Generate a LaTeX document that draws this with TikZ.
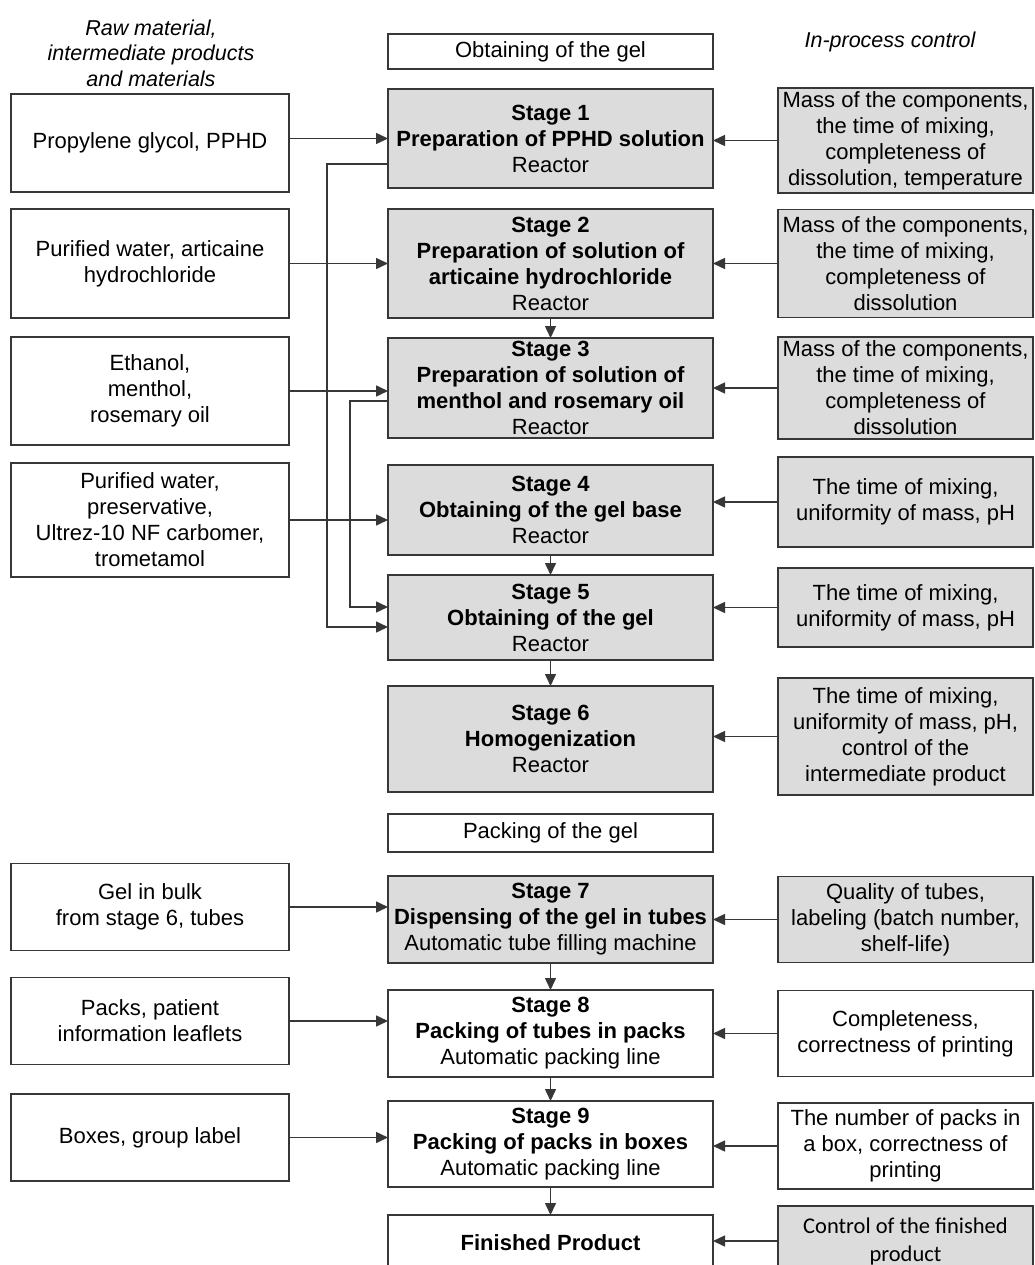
\documentclass[tikz,border=0pt]{standalone}
\usepackage{fontspec}
\setmainfont{Liberation Sans}
\newfontfamily\ctrlfont{Carlito}
\usepackage{xcolor}
\usetikzlibrary{arrows.meta,positioning}
\definecolor{stagegray}{RGB}{220,220,220}
\definecolor{edgegray}{RGB}{55,55,55}
\tikzset{
  basebox/.style={draw=edgegray, line width=1.6pt, align=center, inner sep=2pt, outer sep=0pt, font=\fontsize{22}{26}\selectfont},
  stagebox/.style={basebox, fill=stagegray, minimum width=325pt},
  packbox/.style={basebox, fill=white, minimum width=325pt},
  inbox/.style={basebox, fill=white, minimum width=278pt},
  ctrlbox/.style={basebox, fill=stagegray, minimum width=255pt},
  ctrlwhite/.style={basebox, fill=white, minimum width=255pt},
  headbox/.style={basebox, fill=white, minimum width=325pt},
  headtext/.style={align=center, font=\itshape\fontsize{21.5}{25.5}\selectfont},
  farr/.style={-{Triangle[length=12pt,width=11pt]}, line width=1.5pt, draw=edgegray}
}

\begin{document}
\begin{tikzpicture}[x=1pt,y=-1pt]
\path[fill=white, use as bounding box] (0,0) rectangle (1035,1265);
% column headings
\node[headtext] (hraw) at (151,53) {Raw material,\\intermediate products\\and materials};
\node[headtext] (hctrl) at (890,42) {In-process control};
% stages: obtaining of the gel
\node[headbox, minimum height=35pt] (tgel) at (550.5,51.5) {Obtaining of the gel};
\node[stagebox, minimum height=99pt, below=20pt of tgel] (s1) {\textbf{Stage 1}\\\textbf{Preparation of PPHD solution}\\Reactor};
\node[stagebox, minimum height=109pt, below=21pt of s1] (s2) {\textbf{Stage 2}\\\textbf{Preparation of solution of}\\\textbf{articaine hydrochloride}\\Reactor};
\node[stagebox, minimum height=100pt, below=20pt of s2] (s3) {\textbf{Stage 3}\\\textbf{Preparation of solution of}\\\textbf{menthol and rosemary oil}\\Reactor};
\node[stagebox, minimum height=90pt, below=27pt of s3] (s4) {\textbf{Stage 4}\\\textbf{Obtaining of the gel base}\\Reactor};
\node[stagebox, minimum height=85pt, below=20pt of s4] (s5) {\textbf{Stage 5}\\\textbf{Obtaining of the gel}\\Reactor};
\node[stagebox, minimum height=106pt, below=26pt of s5] (s6) {\textbf{Stage 6}\\\textbf{Homogenization}\\Reactor};
% stages: packing of the gel
\node[headbox, minimum height=38pt, below=22pt of s6] (tpack) {Packing of the gel};
\node[stagebox, minimum height=87pt, below=24pt of tpack] (s7) {\textbf{Stage 7}\\\textbf{Dispensing of the gel in tubes}\\Automatic tube filling machine};
\node[packbox, minimum height=87pt, below=27pt of s7] (s8) {\textbf{Stage 8}\\\textbf{Packing of tubes in packs}\\Automatic packing line};
\node[packbox, minimum height=86pt, below=24pt of s8] (s9) {\textbf{Stage 9}\\\textbf{Packing of packs in boxes}\\Automatic packing line};
\node[packbox, minimum height=56pt, below=28pt of s9] (fin) {\textbf{Finished Product}};
% raw material, intermediate products and materials
\node[inbox, minimum height=98pt, left=99pt of s1, yshift=-4.5pt] (l1) {Propylene glycol, PPHD};
\node[inbox, minimum height=109pt, left=99pt of s2] (l2) {Purified water, articaine\\hydrochloride};
\node[inbox, minimum height=108pt, left=99pt of s3, yshift=-3pt] (l3) {Ethanol,\\menthol,\\rosemary oil};
\node[inbox, minimum height=114pt, left=99pt of s4, yshift=-10pt] (l4) {Purified water,\\preservative,\\Ultrez-10 NF carbomer,\\trometamol};
\node[inbox, minimum height=87pt, left=99pt of s7, yshift=12.5pt] (l7) {Gel in bulk\\from stage 6, tubes};
\node[inbox, minimum height=87pt, left=99pt of s8, yshift=12.5pt] (l8) {Packs, patient\\information leaflets};
\node[inbox, minimum height=87pt, left=99pt of s9, yshift=6.5pt] (l9) {Boxes, group label};
% in-process control
\node[ctrlbox, minimum height=105pt, right=65pt of s1, yshift=-2pt] (r1) {Mass of the components,\\the time of mixing,\\completeness of\\dissolution, temperature};
\node[ctrlbox, minimum height=108pt, right=65pt of s2] (r2) {Mass of the components,\\the time of mixing,\\completeness of\\dissolution};
\node[ctrlbox, minimum height=102pt, right=65pt of s3] (r3) {Mass of the components,\\the time of mixing,\\completeness of\\dissolution};
\node[ctrlbox, minimum height=90pt, right=65pt of s4, yshift=8pt] (r4) {The time of mixing,\\uniformity of mass, pH};
\node[ctrlbox, minimum height=79pt, right=65pt of s5, yshift=10pt] (r5) {The time of mixing,\\uniformity of mass, pH};
\node[ctrlbox, minimum height=117pt, right=65pt of s6, yshift=2.5pt] (r6) {The time of mixing,\\uniformity of mass, pH,\\control of the\\intermediate product};
\node[ctrlbox, minimum height=86pt, right=65pt of s7] (r7) {Quality of tubes,\\labeling (batch number,\\shelf-life)};
\node[ctrlwhite, minimum height=86pt, right=65pt of s8] (r8) {Completeness,\\correctness of printing};
\node[ctrlwhite, minimum height=86pt, right=65pt of s9, yshift=-2pt] (r9) {The number of packs in\\a box, correctness of\\printing};
\node[ctrlbox, minimum height=70pt, right=65pt of fin, yshift=2pt, font=\ctrlfont\fontsize{22.5}{28}\selectfont] (r10) {Control of the finished\\product};
% inputs from the left
\draw[farr] (s1.west -| l1.east) -- (s1.west);
\draw[farr] (l2.east) -- (l2.east -| s2.west);
\draw[farr] (l3.east) -- (l3.east -| s3.west);
\draw[farr] (l4.east) -- (l4.east -| s4.west);
\draw[farr] (l7.east) -- (l7.east -| s7.west);
\draw[farr] (l8.east) -- (l8.east -| s8.west);
\draw[farr] (l9.east) -- (l9.east -| s9.west);
% controls from the right
\draw[farr] (r1.west) -- (r1.west -| s1.east);
\draw[farr] (r2.west) -- (r2.west -| s2.east);
\draw[farr] (r3.west) -- (r3.west -| s3.east);
\draw[farr] (r4.west) -- (r4.west -| s4.east);
\draw[farr] (r5.west) -- (r5.west -| s5.east);
\draw[farr] (r6.west) -- (r6.west -| s6.east);
\draw[farr] (r7.west) -- (r7.west -| s7.east);
\draw[farr] (r8.west) -- (r8.west -| s8.east);
\draw[farr] (r9.west) -- (r9.west -| s9.east);
\draw[farr] (r10.west) -- (r10.west -| fin.east);
% flow between stages
\draw[farr] (s2) -- (s3);
\draw[farr] (s4) -- (s5);
\draw[farr] (s5) -- (s6);
\draw[farr] (s7) -- (s8);
\draw[farr] (s8) -- (s9);
\draw[farr] (s9) -- (fin);
% solutions of stages 1 and 3 into stage 5
\draw[farr] ([yshift=-25.5pt]s1.west) -- ++(-61pt,0) |- ([yshift=-9.5pt]s5.west);
\draw[farr] ([yshift=-13pt]s3.west) -- ++(-38pt,0) |- ([yshift=10.5pt]s5.west);
\end{tikzpicture}
\end{document}
